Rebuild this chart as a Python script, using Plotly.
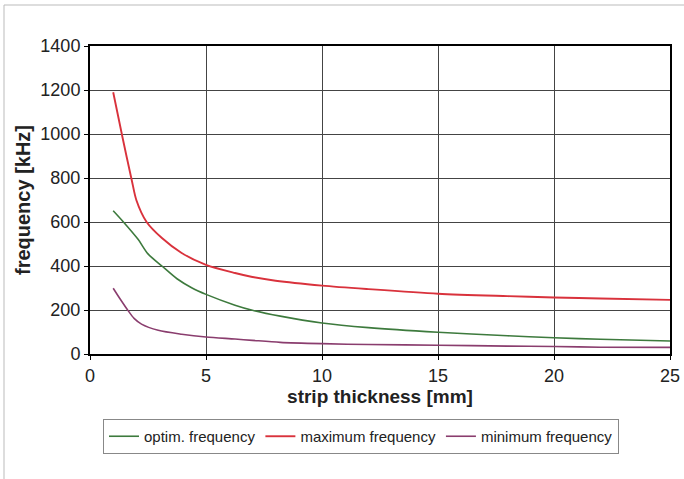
import plotly.graph_objects as go

# strip thickness [mm]
x_max = [1, 1.4, 1.8, 2.0, 2.44, 3.1, 3.95, 5.0, 6.25, 7.0, 8.0, 10.0, 12.0, 15.0, 18.0, 20.0, 22.0, 25.0]
max_freq = [1190, 985, 790, 699, 600, 527, 459, 405, 368, 350, 333, 311, 295, 274, 263, 257, 252, 246]

x_opt = [1, 1.44, 2.08, 2.5, 3.1, 3.75, 4.4, 5.0, 6.25, 7.0, 8.2, 10.0, 12.0, 15.0, 18.0, 20.0, 22.0, 25.0]
opt_freq = [651, 600, 520, 455, 400, 342, 300, 271, 222, 199, 172, 141, 120, 99, 83, 74, 67, 59]

x_min = [1, 1.3, 1.65, 1.9, 2.22, 2.94, 3.95, 5.0, 6.25, 7.0, 8.2, 10.0, 12.0, 15.0, 18.0, 20.0, 22.0, 25.0]
min_freq = [299, 250, 196, 162, 136, 108, 90, 77, 68, 62, 53, 47, 43, 40, 36, 34, 31, 30]

x_ticks = [0, 5, 10, 15, 20, 25]
y_ticks = [0, 200, 400, 600, 800, 1000, 1200, 1400]

fig = go.Figure()
fig.add_trace(go.Scatter(x=x_opt, y=opt_freq, mode="lines", name="optim. frequency",
                         line=dict(color="#3d7a3d", width=1.6, shape="spline", smoothing=0.8)))
fig.add_trace(go.Scatter(x=x_max, y=max_freq, mode="lines", name="maximum frequency",
                         line=dict(color="#d9323c", width=1.9, shape="spline", smoothing=0.8)))
fig.add_trace(go.Scatter(x=x_min, y=min_freq, mode="lines", name="minimum frequency",
                         line=dict(color="#8a3d6e", width=1.6, shape="spline", smoothing=0.8)))

W, H = 684, 479
ml, mr, mt, mb = 90, 14, 46, 125
pw, ph = W - ml - mr, H - mt - mb

def px_to_paper_x(px):
    return (px - ml) / pw

def px_to_paper_y(py):
    return (H - mb - py) / ph

fig.update_layout(
    width=W, height=H,
    margin=dict(l=ml, r=mr, t=mt, b=mb, autoexpand=False),
    paper_bgcolor="white", plot_bgcolor="white",
    font=dict(family="Liberation Sans, Arial, sans-serif", color="#222", size=18),
    showlegend=True,
    legend=dict(orientation="h", x=px_to_paper_x(361), xanchor="center", y=px_to_paper_y(419), yanchor="top",
                bordercolor="#888", borderwidth=1, font=dict(size=15),
                itemwidth=30, tracegroupgap=0),
    xaxis=dict(range=[0, 25], tickvals=x_ticks, showgrid=True, gridcolor="#444", gridwidth=1,
               showline=True, linecolor="black", linewidth=2, mirror=True, zeroline=False,
               automargin=False,
               ticks="outside", ticklen=4, tickcolor="black", tickfont=dict(size=18),
               title=dict(text="<b>strip thickness [mm]</b>", font=dict(size=19), standoff=4)),
    yaxis=dict(range=[0, 1400], tickvals=y_ticks, showgrid=True, gridcolor="#444", gridwidth=1,
               showline=True, linecolor="black", linewidth=2, mirror=True, zeroline=False,
               automargin=False,
               ticks="outside", ticklen=4, tickcolor="black", tickfont=dict(size=18),
               title=dict(text="<b>frequency [kHz]</b>", font=dict(size=20), standoff=4)),
    shapes=[dict(type="rect", xref="paper", yref="paper",
                 x0=px_to_paper_x(4), x1=px_to_paper_x(700),
                 y0=px_to_paper_y(500), y1=px_to_paper_y(5),
                 line=dict(color="#bbb", width=1), fillcolor="rgba(0,0,0,0)", layer="below")],
)

fig.write_html("out.html", config={"displayModeBar": False},
               post_script="document.body.style.margin='0';")
